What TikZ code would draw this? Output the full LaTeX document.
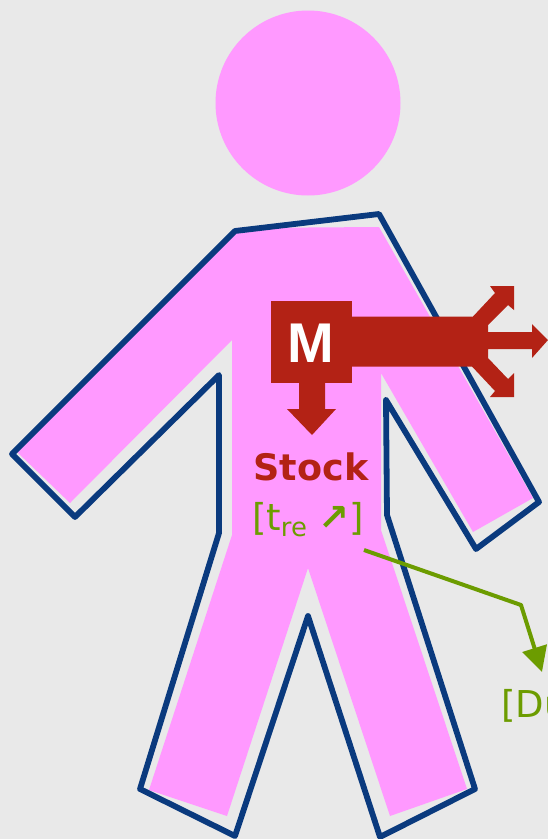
\documentclass[tikz,border=0pt]{standalone}
\usepackage{fontspec}
\setmainfont{DejaVu Sans}
\newfontfamily\massfont{Liberation Sans}
\usepackage{xcolor}
\usetikzlibrary{arrows.meta,positioning}
\definecolor{pagegray}{HTML}{E9E9E9}
\definecolor{bodypink}{HTML}{FF99FF}
\definecolor{edgeblue}{HTML}{0A3A7E}
\definecolor{flowred}{HTML}{B32215}
\definecolor{trendgreen}{HTML}{6C9C00}
\begin{document}
\begin{tikzpicture}[
  x=1pt, y=-1pt,
  bodyfill/.style={fill=bodypink, draw=none},
  outline/.style={draw=edgeblue, line width=5.8pt, line join=round},
  flow/.style={fill=flowred, draw=none},
  mbox/.style={font=\massfont\fontsize{56}{56}\selectfont\bfseries, text=white, inner sep=0pt},
  stocklab/.style={font=\fontsize{36.5}{37}\selectfont\bfseries, text=flowred, inner sep=0pt},
  trendlab/.style={font=\fontsize{37}{37}\selectfont, text=trendgreen, inner sep=0pt},
  trendline/.style={draw=trendgreen, line width=4pt, line join=round, -{Triangle[length=25pt,width=25pt]}}
]
  \useasboundingbox (0,0) rectangle (548,839);
  \fill[pagegray] (0,0) rectangle (548,839);
  % body
  \fill[bodyfill] (308,103) circle[radius=92.5];
  \fill[bodyfill] (236,228) -- (379,227) -- (533,498) -- (473,532) -- (381,373) -- (381,530)
    -- (467,789) -- (390,816) -- (308,568) -- (227,816) -- (149,790) -- (232,535) -- (232,340)
    -- (70,503) -- (17,452) -- cycle;
  \draw[outline] (235,231) -- (379,214) -- (539,502) -- (476,549) -- (386,400) -- (387,515)
    -- (475,789) -- (380,837) -- (308,616) -- (235,836) -- (140,789) -- (219,533) -- (219,375)
    -- (75,517) -- (12,454) -- cycle;
  % outflows
  \fill[flow] (270.5,301) rectangle (352,382.5);
  \fill[flow] (352,316.5) -- (473,316.5) -- (495,293) -- (490,286) -- (514,286) -- (514,310)
    -- (508,305) -- (488,325) -- (488,332) -- (532,332) -- (532,324) -- (548,340) -- (532,358)
    -- (532,349) -- (488,349) -- (488,358) -- (508,379) -- (514,373) -- (514,397) -- (490,397)
    -- (495,391) -- (472,366.5) -- (352,366.5) -- cycle;
  \fill[flow] (299,382.5) -- (299,409) -- (287,409) -- (312,435) -- (336,409) -- (325,409)
    -- (325,382.5) -- cycle;
  % labels
  \node[mbox] (mass) at (311,343) {M};
  \node[stocklab, below=118pt of mass.base, anchor=base] (stock) {Stock};
  \node[trendlab, below=50pt of stock.base, anchor=base, xshift=-3pt] (trend) {[t\textsubscript{re}\hspace{11pt}{\bfseries ↗}]};
  \node[trendlab, anchor=base west] (drain) at (501,717) {[Du};
  \coordinate (start) at (364,550);
  \coordinate (bend) at (521,605);
  \coordinate (tip) at (542,672);
  \draw[trendline] (start) -- (bend) -- (tip);
\end{tikzpicture}
\end{document}
